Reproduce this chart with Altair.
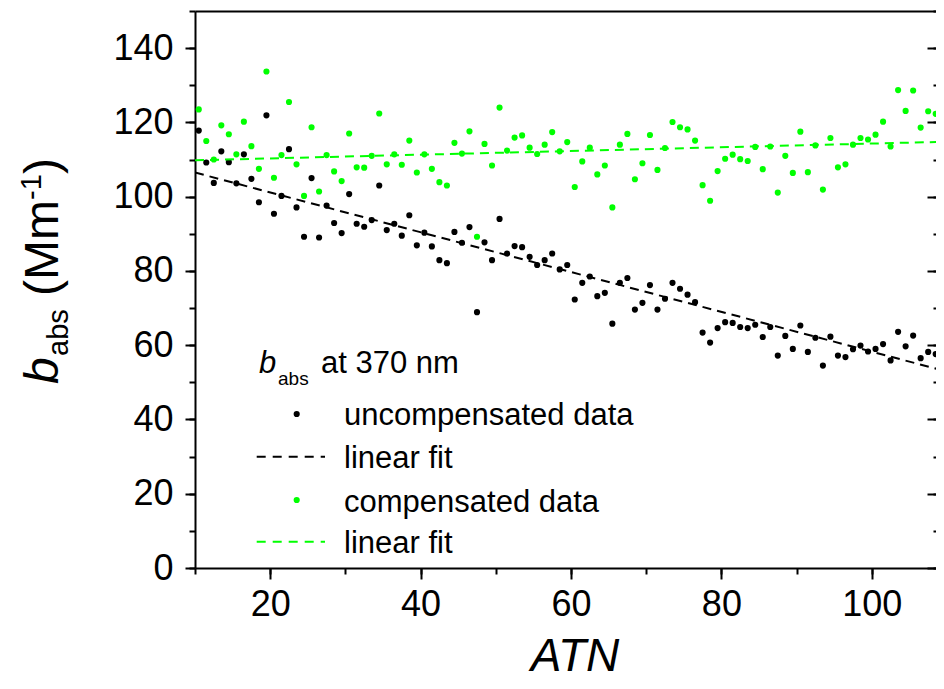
import altair as alt
import pandas as pd

FONT = "Liberation Sans"
GREEN = "#00ff00"

# ---------------- data ----------------
atn = [10.5, 11.5, 12.5, 13.5, 14.5, 15.5, 16.5, 17.5, 18.5, 19.5,
       20.5, 21.5, 22.5, 23.5, 24.5, 25.5, 26.5, 27.5, 28.5, 29.5,
       30.5, 31.5, 32.5, 33.5, 34.5, 35.5, 36.5, 37.5, 38.5, 39.5,
       40.5, 41.5, 42.5, 43.5, 44.5, 45.5, 46.5, 47.5, 48.5, 49.5,
       50.5, 51.5, 52.5, 53.5, 54.5, 55.5, 56.5, 57.5, 58.5, 59.5,
       60.5, 61.5, 62.5, 63.5, 64.5, 65.5, 66.5, 67.5, 68.5, 69.5,
       70.5, 71.5, 72.5, 73.5, 74.5, 75.5, 76.5, 77.5, 78.5, 79.5,
       80.5, 81.5, 82.5, 83.5, 84.5, 85.5, 86.5, 87.5, 88.5, 89.5,
       90.5, 91.5, 92.5, 93.5, 94.5, 95.5, 96.5, 97.5, 98.5, 99.5,
       100.5, 101.5, 102.5, 103.5, 104.5, 105.5, 106.5, 107.5, 108.5, 109.5]

b_uncomp = [117.8, 109.2, 103.7, 112.2, 109.3, 103.6, 111.4, 104.8, 98.5, 121.9,
            95.4, 100.2, 112.8, 97.1, 89.2, 105.0, 89.0, 97.6, 92.9, 90.2,
            100.7, 92.7, 91.9, 93.7, 103.0, 91.0, 92.7, 89.5, 95.0, 86.9,
            90.3, 86.6, 82.9, 82.1, 90.5, 87.6, 91.8, 68.9, 87.7, 82.9,
            94.0, 84.7, 86.7, 86.4, 83.8, 81.6, 82.9, 84.7, 80.4, 81.6,
            72.3, 76.8, 78.5, 73.2, 74.1, 65.8, 76.8, 78.1, 69.6, 71.4,
            76.2, 69.6, 72.5, 76.8, 75.2, 73.6, 71.6, 63.4, 60.7, 64.6,
            66.2, 66.0, 64.9, 64.6, 65.5, 62.2, 64.9, 57.2, 62.5, 59.0,
            65.3, 58.2, 62.0, 54.5, 62.3, 57.2, 56.8, 58.9, 59.9, 58.3,
            59.0, 60.3, 55.9, 63.6, 59.7, 62.6, 56.5, 58.2, 57.6, 57.6]

b_comp = [123.5, 115.0, 110.0, 119.2, 116.8, 111.4, 120.2, 113.6, 107.5, 133.7,
          105.1, 111.2, 125.5, 108.7, 100.2, 118.7, 101.4, 111.2, 106.8, 104.2,
          117.0, 107.9, 107.8, 111.0, 122.4, 108.7, 111.4, 108.6, 115.1, 106.5,
          111.4, 107.5, 103.9, 103.0, 114.5, 111.6, 117.6, 89.2, 114.2, 108.4,
          124.0, 112.4, 115.9, 116.5, 113.2, 111.5, 114.0, 117.4, 112.2, 114.7,
          102.6, 109.5, 113.2, 106.0, 108.4, 97.1, 114.0, 116.9, 104.7, 109.0,
          116.6, 107.2, 113.1, 120.1, 118.7, 118.1, 115.1, 103.1, 98.9, 106.9,
          110.2, 111.3, 110.1, 109.6, 113.4, 107.4, 113.5, 101.1, 111.0, 106.4,
          117.5, 106.6, 113.8, 101.9, 115.8, 107.9, 108.7, 114.0, 115.8, 115.4,
          116.7, 120.2, 113.5, 128.7, 123.1, 128.6, 118.6, 123.0, 122.3, 123.8]

fit_x = [10, 110]
fit_uncomp = [106.5, 52.9]
fit_comp = [109.8, 114.8]

x_major = [20, 40, 60, 80, 100]
x_minor = [10, 20, 30, 40, 50, 60, 70, 80, 90, 100, 110]
y_major = [0, 20, 40, 60, 80, 100, 120, 140]
y_minor = [0, 10, 20, 30, 40, 50, 60, 70, 80, 90, 100, 110, 120, 130, 140, 150]

legend_title = ["b", "abs", "at 370 nm"]
legend_labels = ["uncompensated data", "linear fit", "compensated data", "linear fit"]
y_title_parts = ["b", "abs", "(Mm", "-1", ")"]
x_title = "ATN"

# ---------------- layout ----------------
# the reference's frame runs past the right edge of the picture; keep the same
# pixels per ATN unit and show the part of the x range that fits on the page
W, H = 741, 557
X_MAX = 108.54

xs = alt.Scale(domain=[10, X_MAX], nice=False, zero=False)
ys = alt.Scale(domain=[0, 150], nice=False, zero=False)


def ax(orient, values, size, labels=False, domain=False, offset=None, pad=None, ticks=True):
    kw = dict(orient=orient, values=values, tickSize=size, labels=labels, domain=domain,
              ticks=ticks, grid=False, title=None, tickColor="black", tickWidth=2,
              domainColor="black", domainWidth=2, labelFont=FONT, labelFontSize=36,
              labelColor="black", labelFlush=False, labelOverlap=False)
    if offset is not None:
        kw["offset"] = offset
    if pad is not None:
        kw["labelPadding"] = pad
    return alt.Axis(**kw)


df_u = pd.DataFrame({"atn": atn, "babs": b_uncomp})
df_c = pd.DataFrame({"atn": atn, "babs": b_comp})
df_fu = pd.DataFrame({"atn": fit_x, "babs": fit_uncomp})
df_fc = pd.DataFrame({"atn": fit_x, "babs": fit_comp})

pts_u = alt.Chart(df_u).mark_circle(size=38, color="black", opacity=1).encode(
    x=alt.X("atn:Q", scale=xs, axis=ax("bottom", x_major, 11, labels=True, domain=True, pad=8)),
    y=alt.Y("babs:Q", scale=ys, axis=ax("left", y_major, 10, labels=True, domain=True, pad=12)),
)
fit_u = alt.Chart(df_fu).mark_line(color="black", strokeWidth=2, strokeDash=[9, 6], clip=True).encode(
    x=alt.X("atn:Q", scale=xs, axis=ax("bottom", x_minor, 6)),
    y=alt.Y("babs:Q", scale=ys, axis=ax("left", y_minor, 6)),
)
pts_c = alt.Chart(df_c).mark_circle(size=38, color=GREEN, opacity=1).encode(
    x=alt.X("atn:Q", scale=xs, axis=ax("top", x_major, 0, domain=True, ticks=False)),
    y=alt.Y("babs:Q", scale=ys, axis=ax("left", y_major, 9, offset=-W)),
)
fit_c = alt.Chart(df_fc).mark_line(color=GREEN, strokeWidth=2, strokeDash=[9, 6], clip=True).encode(
    x=alt.X("atn:Q", scale=xs, axis=None),
    y=alt.Y("babs:Q", scale=ys, axis=ax("left", y_minor, 3, offset=-W)),
)


def txt(s, x, y, size, italic=False, angle=None, align="left", baseline="alphabetic"):
    kw = dict(font=FONT, fontSize=size, color="black", align=align, baseline=baseline)
    if italic:
        kw["fontStyle"] = "italic"
    if angle is not None:
        kw["angle"] = angle
    return alt.Chart(pd.DataFrame({"t": [s]})).mark_text(**kw).encode(
        x=alt.value(x), y=alt.value(y), text="t:N")


def dot(x, y, color):
    return alt.Chart(pd.DataFrame({"t": [0]})).mark_circle(size=38, color=color, opacity=1).encode(
        x=alt.value(x), y=alt.value(y))


def dash(x1, x2, y, color):
    return alt.Chart(pd.DataFrame({"t": [0]})).mark_rule(color=color, strokeWidth=2, strokeDash=[9, 7]).encode(
        x=alt.value(x1), x2=alt.value(x2), y=alt.value(y))


legend = [
    txt(legend_title[0], 64, 362, 31, italic=True),
    txt(legend_title[1], 83, 374, 19),
    txt(legend_title[2], 126, 362, 31),
    dot(101.7, 403, "black"),
    txt(legend_labels[0], 149, 414, 31),
    dash(61.7, 130, 445.7, "black"),
    txt(legend_labels[1], 149, 457, 31),
    dot(101.7, 489, GREEN),
    txt(legend_labels[2], 149, 501, 31),
    dash(61.7, 130, 530.7, GREEN),
    txt(legend_labels[3], 149, 542, 31),
]

ytitle = [
    txt(y_title_parts[0], -137, 373, 48, italic=True, angle=270),
    txt(y_title_parts[1], -127, 345, 29, angle=270),
    txt(y_title_parts[2], -137, 285, 48, angle=270),
    txt(y_title_parts[3], -154, 189, 29, angle=270),
    txt(y_title_parts[4], -137, 163, 48, angle=270),
]

xtitle = [txt(x_title, 380, 660, 46, italic=True, align="center")]

chart = alt.layer(pts_u, fit_u, pts_c, fit_c, *legend, *ytitle, *xtitle).resolve_axis(
    x="independent", y="independent"
).properties(
    width=W, height=H,
    padding={"left": 187, "top": 3, "right": 0, "bottom": 113},
    autosize=alt.AutoSizeParams(type="none"),
).configure_view(strokeWidth=0).configure(font=FONT)

chart.save("out.html", embed_options={"renderer": "svg", "actions": False})
